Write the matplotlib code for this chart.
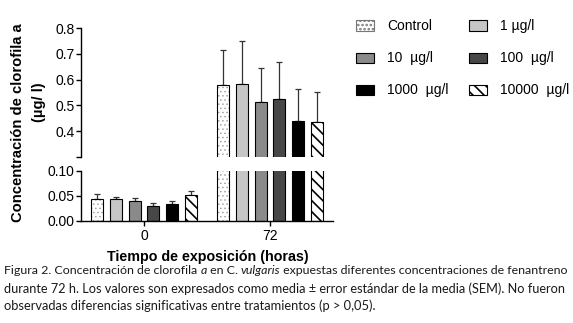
import matplotlib
matplotlib.use("Agg")
import matplotlib.pyplot as plt
from matplotlib.patches import Patch
from matplotlib.font_manager import FontProperties
import numpy as np

plt.rcParams["font.family"] = ["Liberation Sans", "DejaVu Sans"]
plt.rcParams["hatch.linewidth"] = 1.2

groups = ["0", "72"]
labels = ["Control", "1 µg/l", "10  µg/l", "100  µg/l", "1000  µg/l", "10000  µg/l"]
colors = ["white", "#c6c6c6", "#8a8a8a", "#474747", "black", "white"]
hatches = ["....", None, None, None, None, "\\\\\\"]
# mean and SEM for each treatment at 0 h and 72 h
means_0 = [0.044, 0.043, 0.040, 0.030, 0.033, 0.052]
sem_0 = [0.009, 0.004, 0.006, 0.006, 0.007, 0.008]
means_72 = [0.578, 0.585, 0.512, 0.524, 0.440, 0.437]
sem_72 = [0.137, 0.166, 0.135, 0.146, 0.123, 0.116]

fig = plt.figure(figsize=(5.73, 3.23), dpi=100)
ax_top = fig.add_axes([0.1414, 0.514, 0.4398, 0.399])
ax_bot = fig.add_axes([0.1414, 0.316, 0.4398, 0.155])

width = 0.095
step = 0.15
x = np.arange(len(groups))
for i in range(len(labels)):
    pos = x + (i - 2.5) * step
    vals = [means_0[i], means_72[i]]
    errs = [sem_0[i], sem_72[i]]
    for ax in (ax_top, ax_bot):
        if i == 0:
            # light dotted fill, then black outline on top
            with plt.rc_context({"hatch.linewidth": 0.5}):
                ax.bar(pos, vals, width, color="white", edgecolor="#9a9a9a",
                       linewidth=0, hatch="....", zorder=2)
            ax.bar(pos, vals, width, color="none", edgecolor="black",
                   linewidth=0.8, zorder=2.5)
        else:
            ax.bar(pos, vals, width, color=colors[i], edgecolor="black",
                   linewidth=0.8, hatch=hatches[i], zorder=2)
        ax.errorbar(pos, vals, yerr=[[0, 0], errs], fmt="none",
                    ecolor="#333333", elinewidth=0.9, capsize=2.5,
                    capthick=0.9, zorder=1)

ax_top.set_ylim(0.3, 0.8)
ax_top.set_yticks([0.3, 0.4, 0.5, 0.6, 0.7, 0.8])
ax_top.set_yticklabels(["", "0.4", "0.5", "0.6", "0.7", "0.8"])
ax_bot.set_ylim(0, 0.1)
ax_bot.set_yticks([0, 0.05, 0.1])
ax_bot.set_yticklabels(["0.00", "0.05", "0.10"])

for ax in (ax_top, ax_bot):
    ax.set_xlim(-0.5, 1.5)
    ax.spines["top"].set_visible(False)
    ax.spines["right"].set_visible(False)
    ax.spines["left"].set_linewidth(1.0)
    ax.tick_params(axis="y", labelsize=10, length=3.5, width=1.0, pad=1.0)
ax_top.spines["bottom"].set_visible(False)
ax_top.set_xticks([])
ax_bot.spines["bottom"].set_linewidth(1.0)
ax_bot.set_xticks(x)
ax_bot.set_xticklabels(["0", "72"])
ax_bot.tick_params(axis="x", labelsize=10, length=3.5, width=1.0, pad=2.5)

fig.text(0.031, 0.619, "Concentración de clorofila a", rotation=90,
         ha="center", va="center", fontsize=10.6, fontweight="bold")
fig.text(0.068, 0.684, "(µg/ l)", rotation=90, ha="center", va="center",
         fontsize=10.6, fontweight="bold")
fig.text(0.362, 0.204, "Tiempo de exposición (horas)", ha="center", va="center",
         fontsize=10.3, fontweight="bold")

handles = []
for i in range(len(labels)):
    if i == 0:
        handles.append(Patch(facecolor="white", edgecolor="#777777", hatch="....",
                             linewidth=0.8, label=labels[i]))
    else:
        handles.append(Patch(facecolor=colors[i], edgecolor="black", hatch=hatches[i],
                             linewidth=0.8, label=labels[i]))
order = [0, 2, 4, 1, 3, 5]
fig.legend(handles=[handles[k] for k in order], loc="upper left",
           bbox_to_anchor=(0.622, 0.94), ncol=2, frameon=False, fontsize=10,
           handlelength=1.25, handleheight=0.75, labelspacing=1.3,
           columnspacing=1.5, handletextpad=0.95, borderpad=0, borderaxespad=0)

# caption with mixed roman / italic runs
caption = [
    [("Figura 2. Concentración de clorofila ", "normal"), ("a", "italic"),
     (" en C. ", "normal"), ("vulgaris", "italic"),
     (" expuestas diferentes concentraciones de fenantreno", "normal")],
    [("durante 72 h. Los valores son expresados como media ± error estándar de la media (SEM). No fueron", "normal")],
    [("observadas diferencias significativas entre tratamientos (p > 0,05).", "normal")],
]
line_ends = [568, 564, 0]
renderer = fig.canvas.get_renderer()
y0 = 1 - 271 / 323


def advance(txt, prop):
    # pen advance of txt, trailing spaces included
    t1 = fig.text(0, 0, txt + "H", fontproperties=prop)
    t2 = fig.text(0, 0, "H", fontproperties=prop)
    w = t1.get_window_extent(renderer).width - t2.get_window_extent(renderer).width
    t1.remove()
    t2.remove()
    return w


def draw_line(runs, ypos, size):
    xpos = 4
    items = []
    for txt, style in runs:
        prop = FontProperties(family="Lato", style=style, size=size)
        t = fig.text(xpos / 573, ypos, txt, ha="left", va="center",
                     fontproperties=prop, color="#1a1a1a")
        items.append(t)
        xpos += advance(txt, prop)
    return items, items[-1].get_window_extent(renderer).x1


for n, line in enumerate(caption):
    ypos = y0 - n * 17.5 / 323
    size = 9.3
    items, end = draw_line(line, ypos, size)
    if line_ends[n] and end > line_ends[n]:
        for t in items:
            t.remove()
        size = size * (line_ends[n] - 4) / (end - 4)
        draw_line(line, ypos, size)

fig.savefig("out.png", dpi=100)
